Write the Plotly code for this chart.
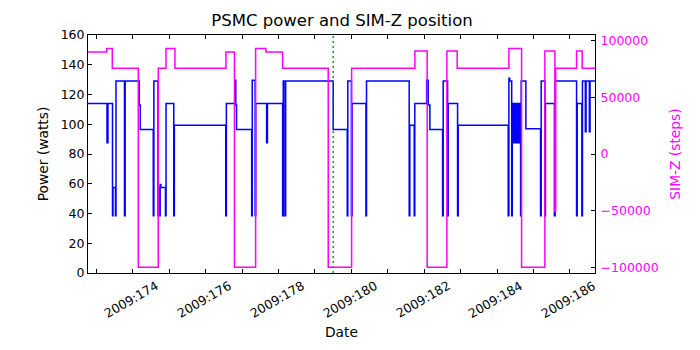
import plotly.graph_objects as go

# ---- data (day-of-year 2009, fractional) ----
power_doy = [172.70, 173.295, 173.322, 173.446, 173.460, 173.528, 173.542, 173.775, 173.794,
             174.181, 174.209, 174.565, 174.582, 174.694, 174.711, 174.735, 174.754, 174.774,
             174.900, 174.916, 175.128, 175.144, 176.554, 176.571, 176.807, 176.829, 176.850,
             177.265, 177.281, 177.361, 177.377, 177.676, 177.698, 178.115, 178.132, 178.178,
             178.198, 179.503, 179.888, 179.904, 180.003, 180.022, 180.401, 180.417, 181.588,
             181.605, 181.726, 181.742, 182.066, 182.110, 182.156, 182.505, 182.521, 182.642,
             182.658, 182.916, 182.933, 184.305, 184.324, 184.346, 184.401, 184.417, 184.455,
             184.472, 184.499, 184.516, 184.543, 184.560, 184.587, 184.604, 184.645, 184.661,
             184.790, 185.193, 185.210, 185.311, 185.328, 185.572, 185.594, 186.181, 186.198,
             186.327, 186.343, 186.422, 186.442, 186.532, 186.551, 186.80]
power_watts = [114, 87.5, 114, 38.5, 57.5, 38.5, 129, 38.5, 129,
               113, 96.5, 38.5, 129, 38.5, 57.5, 38.5, 59.5, 57.5,
               38.5, 114, 38.5, 99.3, 38.5, 114, 129.5, 113, 96.5,
               38.5, 129.5, 38.5, 114, 87.5, 114, 38.5, 129, 38.5,
               129, 96.5, 38.5, 129, 38.5, 114, 38.5, 129, 38.5,
               99.3, 38.5, 114, 129.5, 113, 96.5, 38.5, 129, 38.5,
               114, 38.5, 99.3, 38.5, 131, 129, 38.5, 114, 87.5,
               114, 87.5, 114, 87.5, 114, 87.5, 114, 38.5, 129,
               97, 38.5, 129, 38.5, 114, 38.5, 129, 38.5, 114,
               38.5, 129, 95, 129, 95, 129, 129]

simz_doy = [172.70, 173.287, 173.440, 174.154, 174.702, 174.914, 175.160, 176.560, 176.793,
            177.374, 177.657, 178.115, 179.366, 180.008, 181.745, 182.082, 182.623, 182.905,
            184.324, 184.672, 185.311, 185.586, 185.608, 186.181, 186.335, 186.80]
simz_steps = [89800, 92900, 75600, -99600, 75600, 92900, 75600, 89800, -99600,
              92900, 89800, 75600, -99600, 75600, 90700, -99600, 90700, 75600,
              92900, -99600, 90700, -50500, 75600, 90700, 75600, 75600]

now_doy = 179.503

tick_days = list(range(173, 187))
label_days = [174, 176, 178, 180, 182, 184, 186]
label_text = ["2009:174", "2009:176", "2009:178", "2009:180", "2009:182", "2009:184", "2009:186"]
power_ticks = [0, 20, 40, 60, 80, 100, 120, 140, 160]
simz_ticks = [-100000, -50000, 0, 50000, 100000]
simz_tick_text = ["\u2212100000", "\u221250000", "0", "50000", "100000"]

x_range = [172.774, 186.687]
power_range = [0, 160]
simz_range = [-104600, 104800]

FONT = "DejaVu Sans"
fig = go.Figure()

fig.add_trace(go.Scatter(x=power_doy, y=power_watts, mode="lines",
                         line=dict(color="#0000ff", width=1.5, shape="hv"),
                         yaxis="y", showlegend=False))
fig.add_trace(go.Scatter(x=[now_doy, now_doy], y=power_range, mode="lines",
                         line=dict(color="#008000", width=1.3, dash="2px,3px"),
                         yaxis="y", showlegend=False))
fig.add_trace(go.Scatter(x=simz_doy, y=simz_steps, mode="lines",
                         line=dict(color="#ff00ff", width=1.5, shape="hv"),
                         yaxis="y2", showlegend=False))

# rotated date labels, centred under their ticks
for d, t in zip(label_days, label_text):
    fig.add_annotation(x=d, xref="x", y=0, yref="paper", text=t, showarrow=False,
                       textangle=-30, xanchor="center", yanchor="middle",
                       xshift=-1.7, yshift=-26, font=dict(size=12.5, family=FONT))

# page body has an 8px margin: figure is 692x342, shifted by (8, 8)
fig.update_layout(
    width=692, height=342,
    margin=dict(l=80, r=105, t=27, b=77),
    paper_bgcolor="white", plot_bgcolor="white",
    font=dict(family=FONT, color="black", size=13),
    title=dict(text="PSMC power and SIM-Z position", x=0.4827, xanchor="center",
               yref="container", y=0.965, yanchor="middle",
               font=dict(size=16.5, family=FONT)),
    xaxis=dict(range=x_range, tickvals=tick_days, showticklabels=False, automargin=False,
               ticks="inside", ticklen=4, tickcolor="black",
               showline=True, linecolor="black", linewidth=1, mirror="ticks",
               showgrid=False, zeroline=False,
               title=dict(text="Date", font=dict(size=13.8), standoff=54)),
    yaxis=dict(range=power_range, tickvals=power_ticks, ticks="inside", ticklen=4,
               automargin=False,
               tickcolor="black", showline=True, linecolor="black", linewidth=1,
               showgrid=False, zeroline=False, tickfont=dict(size=12.5),
               title=dict(text="Power (watts)", font=dict(size=13.8), standoff=8)),
    yaxis2=dict(range=simz_range, tickvals=simz_ticks, ticktext=simz_tick_text,
                overlaying="y", side="right", automargin=False,
                ticks="inside", ticklen=4, tickcolor="black", showline=True,
                linecolor="black", linewidth=1, showgrid=False, zeroline=False,
                tickfont=dict(size=12.5, color="#ff00ff"), ticklabelstandoff=2,
                title=dict(text="SIM-Z (steps)", font=dict(size=13.8, color="#ff00ff"),
                           standoff=12)),
)

fig.write_html("out.html")
